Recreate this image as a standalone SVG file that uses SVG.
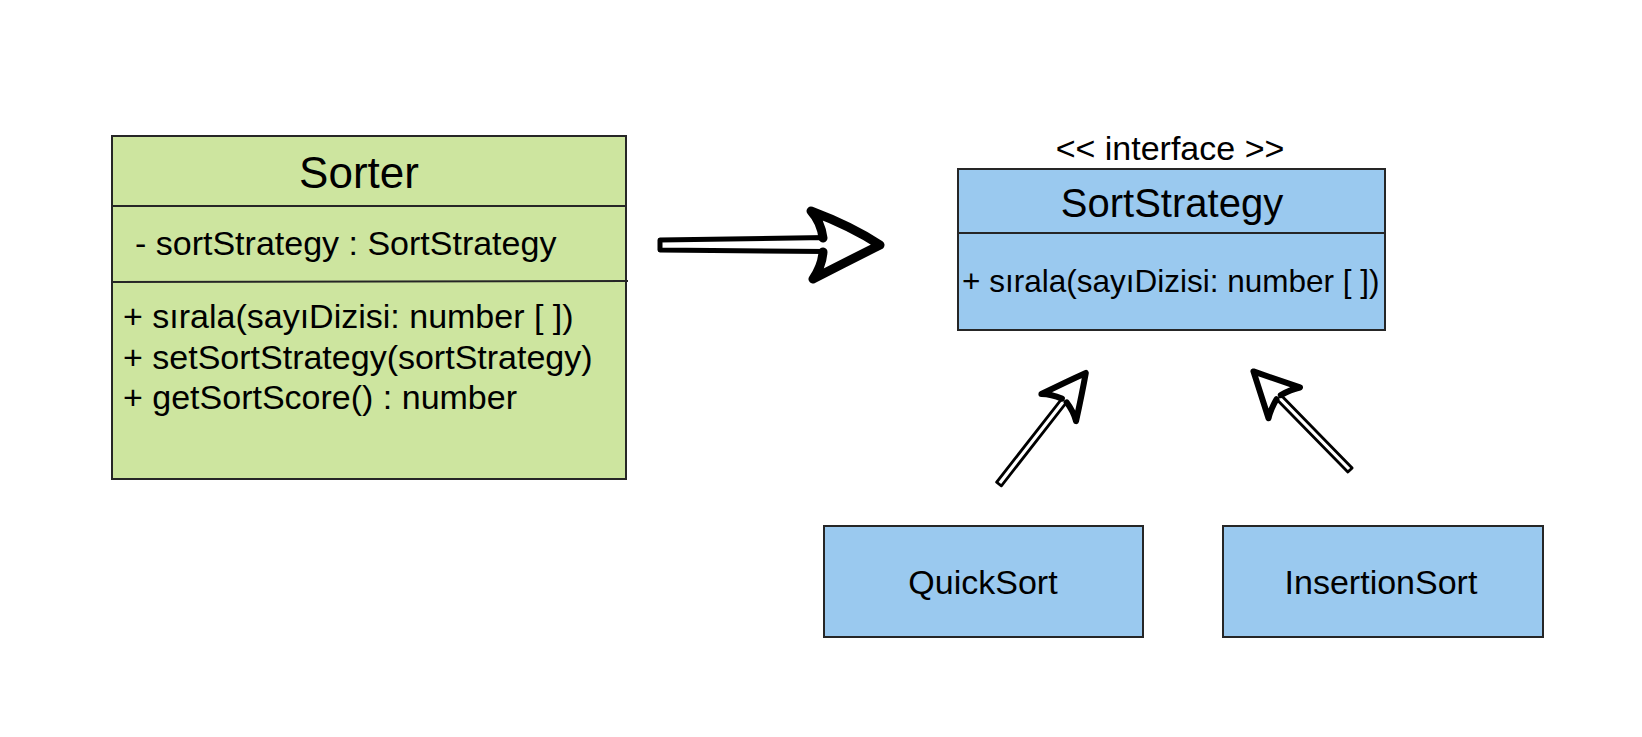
<svg xmlns="http://www.w3.org/2000/svg" width="1642" height="737" viewBox="0 0 1642 737">
<style>
.green{fill:#cde59f;stroke:#262626;stroke-width:2}
.blue{fill:#9ac9ef;stroke:#262626;stroke-width:2}
.div{stroke:#262626;stroke-width:2;fill:none}
text{font-family:"Liberation Sans",Arial,sans-serif;fill:#000}
.s{font-size:34px}
.m{font-size:31.5px}
.ctr{text-anchor:middle}
.shaft{fill:#fff;stroke:#000;stroke-linejoin:round;stroke-linecap:round}
.head{fill:#fff;stroke:#000;stroke-linejoin:round;stroke-linecap:round}
</style>
<rect width="1642" height="737" fill="#fff"/>
<g id="sorter">
<rect class="green" x="112" y="136" width="514" height="343"/>
<line class="div" x1="112" y1="206" x2="626" y2="206"/>
<line class="div" x1="112" y1="282" x2="628" y2="281"/>
<text class="ctr" x="359" y="188" font-size="44">Sorter</text>
<text class="s" x="135" y="255">- sortStrategy : SortStrategy</text>
<text class="s" x="123" y="328">+ sırala(sayıDizisi: number [ ])</text>
<text class="s" x="123" y="369">+ setSortStrategy(sortStrategy)</text>
<text class="s" x="123" y="409">+ getSortScore() : number</text>
</g>
<g id="sortstrategy">
<text class="s ctr" x="1170" y="160">&lt;&lt; interface &gt;&gt;</text>
<rect class="blue" x="958" y="169" width="427" height="161"/>
<line class="div" x1="958" y1="233" x2="1385" y2="233"/>
<text class="ctr" x="1172" y="217" font-size="40">SortStrategy</text>
<text class="m" x="962" y="292">+ sırala(sayıDizisi: number [ ])</text>
</g>
<g id="quicksort">
<rect class="blue" x="824" y="526" width="319" height="111"/>
<text class="s ctr" x="983" y="594">QuickSort</text>
</g>
<g id="insertionsort">
<rect class="blue" x="1223" y="526" width="320" height="111"/>
<text class="s ctr" x="1381" y="594">InsertionSort</text>
</g>
<g id="connectors">
<g id="arrow-sorter-strategy">
<path class="shaft" stroke-width="5" d="M660,240 L826,237.5 L826,251.5 L660,250 Z"/>
<path class="head" stroke-width="9" d="M823,238 Q821,222 811,211 Q851,226 880,245 Q848,261 813,279 Q822,266 823,252"/>
</g>
<g id="arrow-quick" transform="translate(999,484) rotate(-52)">
<path class="shaft" stroke-width="2.8" d="M0,-3 L108,-3 L108,3 L0,3 Z"/>
<path class="head" stroke-width="6" d="M106,-3 Q103,-14 97,-22 Q122,-10 141,0 Q122,10 97,22 Q103,14 106,3"/>
</g>
<g id="arrow-insertion" transform="translate(1350,470) rotate(-134.4)">
<path class="shaft" stroke-width="2.8" d="M0,-3 L104,-3 L104,3 L0,3 Z"/>
<path class="head" stroke-width="6" d="M102,-3 Q99,-14 94,-22 Q118,-10 138,0 Q118,10 94,22 Q99,14 102,3"/>
</g>
</g>
</svg>
